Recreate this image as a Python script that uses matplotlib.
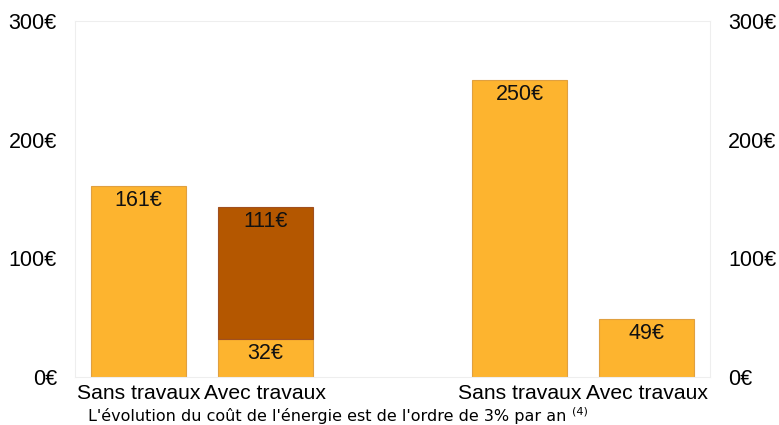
import matplotlib
matplotlib.use("Agg")
import matplotlib.pyplot as plt

categories = ["Sans travaux", "Avec travaux", "", "Sans travaux", "Avec travaux"]
positions = [0, 1, 3, 4]
base_values = [161, 32, 250, 49]
top_values = [0, 111, 0, 0]
yticks = [0, 100, 200, 300]
ytick_labels = ["0€", "100€", "200€", "300€"]
footnote_text = "L'évolution du coût de l'énergie est de l'ordre de 3% par an"
footnote_ref = "(4)"

light = "#FDB42F"
dark = "#B45700"
edge_light = "#E0A040"
edge_dark = "#A05020"

plt.rcParams['font.family'] = ['Liberation Sans', 'DejaVu Sans']

fig = plt.figure(figsize=(7.79, 4.25), dpi=100)
ax = fig.add_axes([75/779, 1 - 377/425, 635/779, 356/425])

ax.bar(positions, base_values, width=0.75, color=light, edgecolor=edge_light, linewidth=0.8)
tp = [p for p, t in zip(positions, top_values) if t]
tv = [t for t in top_values if t]
tb = [b for b, t in zip(base_values, top_values) if t]
ax.bar(tp, tv, bottom=tb, width=0.75, color=dark, edgecolor=edge_dark, linewidth=0.8)

for p, b, t in zip(positions, base_values, top_values):
    ax.annotate(f"{b}€", (p, b), xytext=(0, -3), textcoords="offset points",
                ha="center", va="top", fontsize=15.5, color="#111111")
    if t:
        ax.annotate(f"{t}€", (p, b + t), xytext=(0, -3), textcoords="offset points",
                    ha="center", va="top", fontsize=15.5, color="#111111")

ax.set_xlim(-0.5, 4.5)
ax.set_ylim(0, 300)
ax.set_xticks(range(len(categories)))
ax.set_xticklabels(categories, fontsize=15.2)
ax.set_yticks(yticks)
ax.set_yticklabels(ytick_labels, fontsize=15.5)
ax.tick_params(axis="x", length=0, pad=5)
ax.tick_params(axis="y", length=0, pad=13)

for s in ax.spines.values():
    s.set_color("#EEEEEE")
    s.set_linewidth(0.8)

ax2 = ax.twinx()
ax2.set_ylim(0, 300)
ax2.set_yticks(yticks)
ax2.set_yticklabels(ytick_labels, fontsize=15.5)
ax2.tick_params(axis="y", length=0, pad=13)
for s in ax2.spines.values():
    s.set_visible(False)

t = fig.text(88/779, 1 - 416/425, footnote_text, fontsize=11.5, family="DejaVu Sans",
             va="center", ha="left")
fig.canvas.draw()
bb = t.get_window_extent()
fig.text((bb.x1 + 6) / 779, 1 - 412/425, footnote_ref, fontsize=8, family="DejaVu Sans",
         va="center", ha="left")

fig.savefig("out.png", dpi=100)
